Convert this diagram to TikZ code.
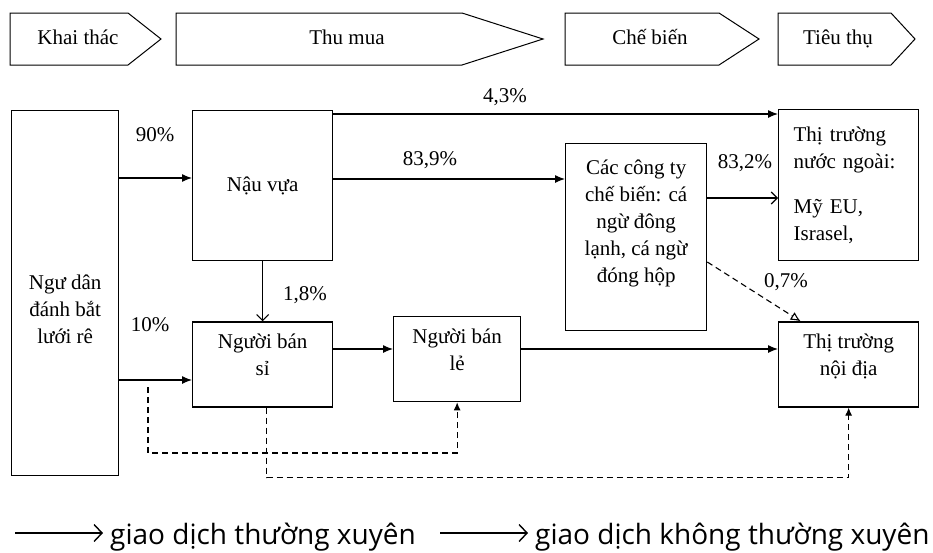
\documentclass[tikz,border=0pt]{standalone}
\usepackage{fontspec}
\setmainfont{Liberation Serif}
\newfontfamily\legendfont{Open Sans}
\usepackage{tikz}
\usetikzlibrary{arrows.meta,positioning,calc}

\begin{document}
\begin{tikzpicture}[
    x=1pt,
    y=-1pt,
    >=Latex,
    font=\fontsize{21}{27}\selectfont,
    box/.style={
        rectangle,
        draw,
        line width=1.3pt,
        inner sep=0pt,
        align=center,
        anchor=north west
    },
    stage/.style={draw, line width=1pt},
    stagetext/.style={inner sep=0pt, anchor=base},
    line/.style={draw, line width=1.2pt, -{Latex[length=10pt,width=8pt]}},
    openline/.style={draw, line width=1.1pt, -{Straight Barb[length=6pt,width=12pt]}},
    dashline/.style={draw, line width=1.1pt, dash pattern=on 6pt off 4pt, -{Latex[length=8pt,width=7pt]}},
    pct/.style={inner sep=0pt},
    legarrow/.style={draw, line width=1.4pt, -{Straight Barb[length=8pt,width=17pt,line width=1.4pt]}},
    legtext/.style={inner sep=0pt, anchor=base west, font=\legendfont\fontsize{28}{32}\selectfont}
]
\useasboundingbox (0,0) rectangle (933,552);

% Stage arrows
\draw[stage] (10,13) -- (128,13) -- (161,39) -- (128,65) -- (10,65) -- cycle;
\node[stagetext] (khaithac) at (78,44) {Khai thác};
\draw[stage] (176,13) -- (462,13) -- (543,39) -- (462,65) -- (176,65) -- cycle;
\node[stagetext] (thumua) at (347,44) {Thu mua};
\draw[stage] (565,13) -- (719,13) -- (759,39) -- (719,65) -- (565,65) -- cycle;
\node[stagetext] (chebien) at (650,44) {Chế biến};
\draw[stage] (778,13) -- (891,13) -- (915,39) -- (891,65) -- (778,65) -- cycle;
\node[stagetext] (tieuthu) at (838,44) {Tiêu thụ};

% Main blocks
\node[box, minimum width=107pt, minimum height=365pt] (ngudan) at (11,110) {\rule{0pt}{47pt}Ngư dân\\đánh bắt\\lưới rê};

\node[box, minimum width=140pt, minimum height=150pt] (nauvua) at (192,110) {Nậu vựa};

\node[box, anchor=north, minimum width=140pt, minimum height=85pt, below=60pt of nauvua] (bansi) {Người bán\\sỉ\rule[-19pt]{0pt}{19pt}};

\node[box, minimum width=127pt, minimum height=85pt] (banle) at (393,316) {Người bán\\lẻ\rule[-19pt]{0pt}{19pt}};

\node[box, minimum width=141pt, minimum height=187pt] (congty) at (565,143) {Các công ty\\chế biến: cá\\ngừ đông\\lạnh, cá ngừ\\đóng hộp\rule[-31pt]{0pt}{31pt}};

\node[box, align=left, text width=110pt, minimum width=140pt, minimum height=151pt] (ttnn) at (778,109) {Thị trường\\nước ngoài:\\[18pt]Mỹ EU,\\Israsel,};

\node[box, anchor=north, minimum width=140pt, minimum height=85pt, below=60pt of ttnn] (ttnd) {Thị trường\\nội địa\rule[-19pt]{0pt}{19pt}};

% Regular flows
\draw[line] (ngudan.east |- 0,178) -- (nauvua.west |- 0,178);
\draw[line] (ngudan.east |- 0,380) -- (bansi.west |- 0,380);
\draw[line] (nauvua.east |- 0,114) -- (ttnn.west |- 0,114);
\draw[line] (nauvua.east |- 0,179) -- (congty.west |- 0,179);
\draw[openline] (nauvua.south) -- (bansi.north);
\draw[openline] (congty.east |- 0,198) -- (ttnn.west |- 0,198);
\draw[line] (bansi.east |- 0,349) -- (banle.west |- 0,349);
\draw[line] (banle.east |- 0,349) -- (ttnd.west |- 0,349);

% Irregular flows
\draw[dashline, -{Latex[open,length=10pt,width=9pt]}] (congty.east |- 0,262) -- ([xshift=-48pt]ttnd.north);
\coordinate (tach) at (148,387);
\draw[dashline] (tach) -- (tach |- 0,453) -| (banle.south);
\draw[dashline] ([xshift=4pt]bansi.south) -- ++(0,70) -| (ttnd.south);

% Shares
\node[pct] (p90) at (155,135) {90\%};
\node[pct] (p10) at (150,325) {10\%};
\node[pct] (p43) at (505,97) {4,3\%};
\node[pct] (p839) at (430,160) {83,9\%};
\node[pct] (p18) at (305,295) {1,8\%};
\node[pct] (p832) at (745,163) {83,2\%};
\node[pct] (p07) at (786,282) {0,7\%};

% Legend
\node[legtext] (leg1) at (110,544) {giao dịch thường xuyên};
\draw[legarrow] ([xshift=-95pt,yshift=11pt]leg1.base west) -- ([xshift=-7pt,yshift=11pt]leg1.base west);
\node[legtext] (leg2) at (535,544) {giao dịch không thường xuyên};
\draw[legarrow] ([xshift=-95pt,yshift=11pt]leg2.base west) -- ([xshift=-7pt,yshift=11pt]leg2.base west);

\end{tikzpicture}
\end{document}
